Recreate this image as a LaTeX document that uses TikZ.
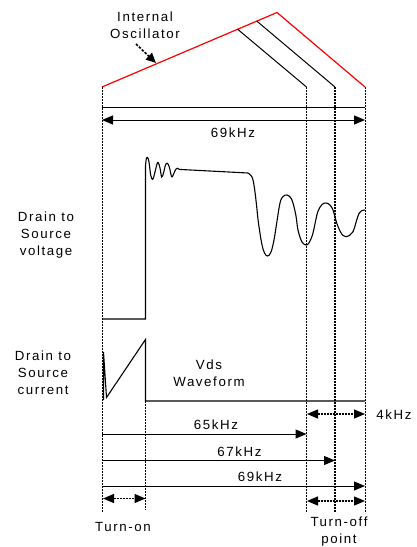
\documentclass[tikz,border=0pt]{standalone}
\usepackage{fontspec}
\setmainfont[LetterSpace=12]{Liberation Sans}
\usetikzlibrary{arrows.meta}
\tikzset{
  lbl/.style={font=\fontsize{13.3}{17}\selectfont, inner sep=0pt, align=center},
  osc/.style={draw=red, line width=1.2pt},
  blk/.style={draw=black, line width=1pt},
  dsh/.style={draw=black, line width=1pt, dash pattern=on 2pt off 1pt},
  dshthick/.style={draw=black, line width=1.6pt, dash pattern=on 2pt off 1pt},
  tip/.style={-{Triangle[length=11pt,width=9pt]}},
  tips/.style={{Triangle[length=11pt,width=9pt]}-{Triangle[length=11pt,width=9pt]}},
}
\begin{document}
\begin{tikzpicture}[x=1pt,y=-1pt]
\useasboundingbox (0,0) rectangle (417,547);
% key coordinates
\coordinate (L0) at (102,87);
\coordinate (Pk) at (277,12.5);
\coordinate (R0) at (365,87);
\coordinate (A0) at (237.7,29.3);
\coordinate (A1) at (306.5,87);
\coordinate (B0) at (256.7,21);
\coordinate (B1) at (335,87);
\coordinate (Lb) at (102,512);
\coordinate (A2) at (306.5,512);
\coordinate (B2) at (335,512);
\coordinate (R2) at (365,513);
\coordinate (T0) at (145.5,401);
\coordinate (T1) at (145.5,510);
% oscillator
\draw[osc] (L0) -- (Pk) -- (R0);
\draw[blk] (A0) -- (A1);
\draw[blk] (B0) -- (B1);
% vertical dashed lines
\draw[dsh] (L0) -- (Lb);
\draw[dshthick] (A1) -- (A2);
\draw[dshthick] (B1) -- (B2);
\draw[dsh] (R0) -- (R2);
\draw[dsh] (T0) -- (T1);
% top period
\coordinate (h1a) at (102,107.5);
\coordinate (h1b) at (365,107.5);
\draw[blk] (h1a) -- (h1b);
\coordinate (h2a) at (102,120);
\coordinate (h2b) at (365,120);
\draw[blk,tips] (h2a) -- (h2b);
\node[lbl] (f69top) at (233,133) {69kHz};
% labels
\node[lbl] (intosc) at (145,25) {Internal\\Oscillator};
\coordinate (oa) at (136,44);
\coordinate (ob) at (156,63);
\draw[blk,line width=1.6pt,dash pattern=on 2.5pt off 1.5pt,-{Triangle[length=10pt,width=9pt]}] (oa) -- (ob);
\node[lbl] (dsv) at (46,235.5) {Drain to\\Source\\voltage};
\node[lbl] (dsc) at (43,373) {Drain to\\Source\\current};
\node[lbl] (vds) at (209,373) {Vds\\Waveform};
% voltage waveform
\draw[blk,line width=1.1pt] (102,319) -- (145.5,319) -- (145.5,166)
  plot[smooth,tension=0.6] coordinates {(145.5,166) (146.3,159) (147.5,157.5) (149,162) (150.7,175) (152.7,179.3) (155,172) (157,164) (158.3,162.7) (160,168) (161.7,177) (163.5,173) (165.5,165) (167.3,163.3) (169.3,167) (171.7,176.7) (174,173) (176,169) (177.5,168.3) (179,169.2) (181,169.5)}
  -- (248,173)
  plot[smooth,tension=0.6] coordinates {(248,173) (251,175.5) (253,180) (255,192) (256.7,206.7) (258.3,221.7) (261.7,243.3) (264.5,253) (267.7,256) (271,252) (274,240) (276.7,223) (280,203) (283,196.5) (287,195) (290.5,197.5) (293,203) (296,216) (298,230) (302,242) (306.7,245) (310,241) (313,233) (316,219) (318,211) (322,204.5) (326,203) (330,205) (333,210) (335,217) (336.7,223) (340,231) (343,235.5) (346,236.7) (350,235) (353,231.7) (355,226) (356.7,220) (359,213.5) (361.7,210.7) (365,210)};
% current waveform
\draw[blk,line width=1.1pt] (103.5,400) -- (103.5,352) -- (106.5,397.5) -- (145.5,339.5) -- (T0) -- (365,401);
% frequency arrows
\coordinate (k4a) at (307,414);
\coordinate (k4b) at (365,414);
\draw[dsh,line width=1.3pt,tips] (k4a) -- (k4b);
\node[lbl] (f4) at (394,414.5) {4kHz};
\coordinate (k65a) at (102,434);
\coordinate (k65b) at (306.5,434);
\draw[blk,tip] (k65a) -- (k65b);
\node[lbl] (f65) at (216,425) {65kHz};
\coordinate (k67a) at (102,460.5);
\coordinate (k67b) at (335,460.5);
\draw[blk,tip] (k67a) -- (k67b);
\node[lbl] (f67) at (239.5,451.5) {67kHz};
\coordinate (k69a) at (102,486);
\coordinate (k69b) at (365,486);
\draw[blk,tip] (k69a) -- (k69b);
\node[lbl] (f69) at (260,476.5) {69kHz};
\coordinate (ona) at (103,498.5);
\coordinate (onb) at (145.5,498.5);
\draw[dsh,line width=1.3pt,tips] (ona) -- (onb);
\node[lbl] (ton) at (123,527) {Turn-on};
\coordinate (offa) at (307,501);
\coordinate (offb) at (365,501);
\draw[dsh,line width=1.3pt,tips] (offa) -- (offb);
\node[lbl] (toff) at (339,531.5) {Turn-off\\point};
\end{tikzpicture}
\end{document}
